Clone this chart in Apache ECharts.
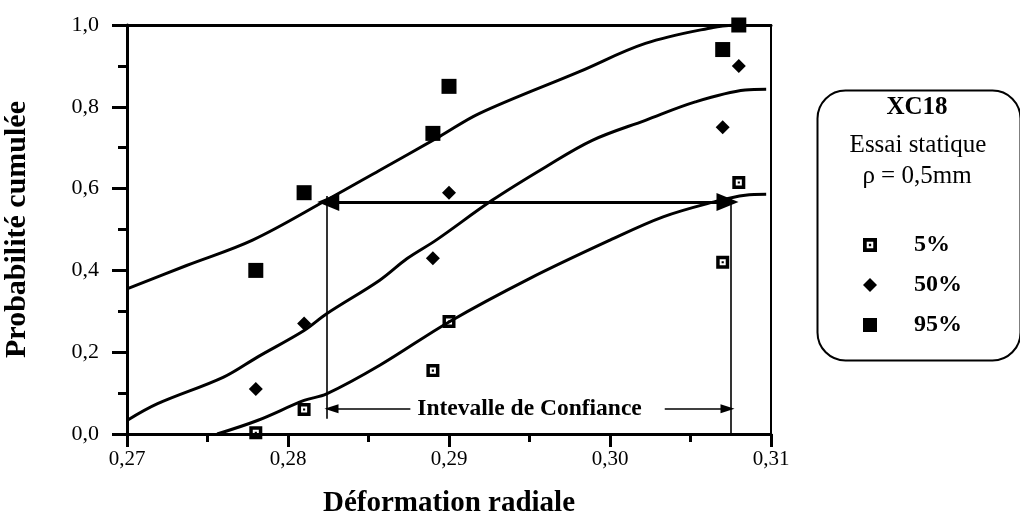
<!DOCTYPE html>
<html>
<head>
<meta charset="utf-8">
<script src="https://cdn.jsdelivr.net/npm/echarts@6/dist/echarts.min.js"></script>
<style>html,body{margin:0;padding:0;background:#fff;}#c{width:1020px;height:516px;}</style>
</head>
<body>
<div id="c"></div>
<script>
// ---- data ----
const seriesNames = ['5%', '50%', '95%'];
const p5X  = [0.278, 0.281, 0.289, 0.290, 0.307, 0.308];
const p5Y  = [0.003, 0.06, 0.155, 0.275, 0.42, 0.615];
const p50X = [0.278, 0.281, 0.289, 0.290, 0.307, 0.308];
const p50Y = [0.11, 0.27, 0.43, 0.59, 0.75, 0.90];
const p95X = [0.278, 0.281, 0.289, 0.290, 0.307, 0.308];
const p95Y = [0.40, 0.59, 0.735, 0.85, 0.94, 1.00];

const upX = [0.270, 0.2737, 0.2778, 0.2824, 0.2857, 0.2894, 0.2919, 0.2981, 0.3022, 0.3064, 0.3078];
const upY = [0.355, 0.412, 0.474, 0.572, 0.645, 0.727, 0.784, 0.886, 0.955, 0.994, 1.0];
const midX = [0.270, 0.2719, 0.2760, 0.2781, 0.2810, 0.2824, 0.2857, 0.2874, 0.2892, 0.2927, 0.2960, 0.2989, 0.3022, 0.3053, 0.3084, 0.3097];
const midY = [0.033, 0.074, 0.139, 0.188, 0.253, 0.294, 0.376, 0.429, 0.474, 0.572, 0.653, 0.718, 0.767, 0.812, 0.841, 0.843];
const lowX = [0.2756, 0.2781, 0.2810, 0.2824, 0.2857, 0.2900, 0.2950, 0.3000, 0.3033, 0.3064, 0.3084, 0.3097];
const lowY = [0.0, 0.033, 0.082, 0.098, 0.168, 0.274, 0.380, 0.474, 0.531, 0.567, 0.584, 0.586];

const xTicks = [0.27, 0.28, 0.29, 0.30, 0.31];
const yTicks = [0.0, 0.2, 0.4, 0.6, 0.8, 1.0];

// confidence interval annotation values
const ciLeft = 0.2825, ciRight = 0.3073, ciLevel = 0.567;
const ciLeftLineY = [0.037, 0.582];
const ciRightLineY = [0.0, 0.578];
const ciLabelY = 0.062;
const ciLabelArrowL = [0.2876, 0.2827];
const ciLabelArrowR = [0.3034, 0.3073];
const ciLabelX = 0.2950;
const ciLabel = 'Intevalle de Confiance';

const boxTitle = 'XC18';
const boxLine1 = 'Essai statique';
const boxLine2 = 'ρ = 0,5mm';
const xName = 'Déformation radiale';
const yName = 'Probabilité cumulée';

// ---- chart ----
const FONT = 'Liberation Serif';
const zip = (xs, ys) => xs.map((x, i) => [x, ys[i]]);
const hollowSq = 'path://M0,0H12V12H0Z M3.2,3.2V8.8H8.8V3.2Z M5,5H7V7H5Z';

const chart = echarts.init(document.getElementById('c'));
const curve = (name, xs, ys, extra) => Object.assign({
  name: name, type: 'line', data: zip(xs, ys), smooth: 0.35, showSymbol: false,
  lineStyle: {color: '#000', width: 3}, silent: true, z: 3
}, extra || {});

chart.setOption({
  animation: false,
  backgroundColor: '#fff',
  textStyle: {fontFamily: FONT, color: '#000'},
  grid: {left: 127, right: 249, top: 25, bottom: 82, containLabel: false, outerBoundsMode: 'none'},
  xAxis: [{
    type: 'value', min: xTicks[0], max: xTicks[xTicks.length - 1], interval: 0.01,
    name: xName, nameLocation: 'middle', nameGap: 55,
    nameTextStyle: {fontFamily: FONT, fontWeight: 'bold', fontSize: 29, color: '#000'},
    axisLine: {lineStyle: {color: '#000', width: 3}},
    axisTick: {show: true, length: 13, lineStyle: {color: '#000', width: 3}},
    minorTick: {show: true, splitNumber: 2, length: 8, lineStyle: {color: '#000', width: 3}},
    splitLine: {show: false},
    axisLabel: {margin: 15, fontSize: 21, color: '#000', fontFamily: FONT,
      formatter: v => v.toFixed(2).replace('.', ',')}
  }, {
    type: 'value', position: 'top', min: xTicks[0], max: xTicks[xTicks.length - 1],
    axisLine: {show: true, onZero: false, lineStyle: {color: '#000', width: 3}},
    axisTick: {show: false}, axisLabel: {show: false}, splitLine: {show: false}
  }],
  yAxis: [{
    type: 'value', min: yTicks[0], max: yTicks[yTicks.length - 1], interval: 0.2,
    name: yName, nameLocation: 'middle', nameGap: 95, nameRotate: 90,
    nameTextStyle: {fontFamily: FONT, fontWeight: 'bold', fontSize: 30, color: '#000'},
    axisLine: {lineStyle: {color: '#000', width: 3}},
    axisTick: {show: true, length: 15, lineStyle: {color: '#000', width: 3}},
    minorTick: {show: true, splitNumber: 2, length: 9, lineStyle: {color: '#000', width: 3}},
    splitLine: {show: false},
    axisLabel: {margin: 28, fontSize: 22, color: '#000', fontFamily: FONT,
      formatter: v => v.toFixed(1).replace('.', ',')}
  }, {
    type: 'value', position: 'right', min: yTicks[0], max: yTicks[yTicks.length - 1],
    axisLine: {show: true, onZero: false, lineStyle: {color: '#000', width: 2}},
    axisTick: {show: false}, axisLabel: {show: false}, splitLine: {show: false}
  }],
  legend: {
    data: seriesNames, orient: 'vertical', left: 863, top: 233, padding: 0,
    itemWidth: 14, itemHeight: 14, itemGap: 16,
    textStyle: {fontFamily: FONT, fontWeight: 'bold', fontSize: 24, color: '#000',
      lineHeight: 24, padding: [0, 0, 0, 32]},
    selectedMode: false
  },
  graphic: [
    {type: 'rect', left: 815, top: 88, z: 1,
      shape: {width: 203, height: 270, r: 28},
      style: {fill: 'none', stroke: '#000', lineWidth: 2}},
    {type: 'text', x: 917, y: 108, style: {text: boxTitle, font: 'bold 25px "Liberation Serif"',
      fill: '#000', align: 'center', verticalAlign: 'middle'}},
    {type: 'text', x: 918, y: 145, style: {text: boxLine1, font: '25px "Liberation Serif"',
      fill: '#000', align: 'center', verticalAlign: 'middle'}},
    {type: 'text', x: 917, y: 176, style: {text: boxLine2, font: '25px "Liberation Serif"',
      fill: '#000', align: 'center', verticalAlign: 'middle'}}
  ],
  series: [
    {name: '5%', type: 'scatter', data: zip(p5X, p5Y), symbol: hollowSq, symbolSize: 13,
      itemStyle: {color: '#000', opacity: 1}, z: 5},
    {name: '50%', type: 'scatter', data: zip(p50X, p50Y), symbol: 'diamond', symbolSize: 14,
      itemStyle: {color: '#000', opacity: 1}, z: 5},
    {name: '95%', type: 'scatter', data: zip(p95X, p95Y), symbol: 'rect', symbolSize: 15,
      itemStyle: {color: '#000', opacity: 1}, z: 5},
    curve('up', upX, upY),
    curve('mid', midX, midY),
    curve('low', lowX, lowY, {
      markLine: {
        silent: true, animation: false, label: {show: false},
        data: [
          [{coord: [ciLeft, ciLevel], symbol: 'triangle', symbolSize: [18, 22]},
           {coord: [ciRight, ciLevel], symbol: 'triangle', symbolSize: [18, 22]}],
          [{coord: [ciLeft - 0.0001, ciLeftLineY[0]], symbol: 'none'},
           {coord: [ciLeft - 0.0001, ciLeftLineY[1]], symbol: 'none', lineStyle: {width: 1.6}}],
          [{coord: [ciRight + 0.0002, ciRightLineY[0]], symbol: 'none'},
           {coord: [ciRight + 0.0002, ciRightLineY[1]], symbol: 'none', lineStyle: {width: 1.6}}],
          [{coord: [ciLabelArrowL[0], ciLabelY], symbol: 'none'},
           {coord: [ciLabelArrowL[1], ciLabelY], symbol: 'triangle', symbolSize: [9, 14], lineStyle: {width: 1.6}}],
          [{coord: [ciLabelArrowR[0], ciLabelY], symbol: 'none'},
           {coord: [ciLabelArrowR[1], ciLabelY], symbol: 'triangle', symbolSize: [9, 14], lineStyle: {width: 1.6}}]
        ],
        lineStyle: {color: '#000', width: 3, type: 'solid'}
      },
      markPoint: {
        silent: true, animation: false,
        data: [{coord: [ciLabelX, ciLabelY], symbol: 'rect', symbolSize: 0,
          label: {show: true, position: 'inside', formatter: ciLabel,
            fontFamily: FONT, fontWeight: 'bold', fontSize: 23.5, color: '#000'}}]
      }
    })
  ]
});
</script>
</body>
</html>
